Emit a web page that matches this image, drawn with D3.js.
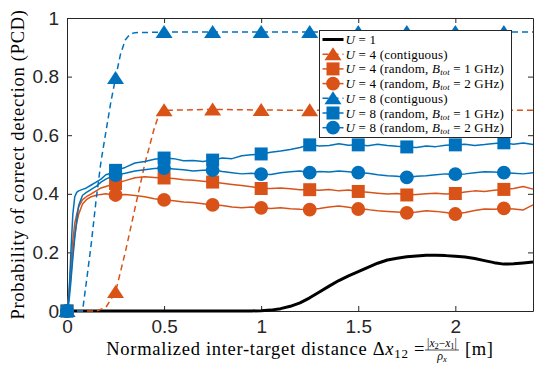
<!DOCTYPE html>
<html>
<head>
<meta charset="utf-8">
<script src="https://cdn.jsdelivr.net/npm/d3@7"></script>
<style>
  body { margin: 0; background: #fff; }
  svg { display: block; }
  .serif { font-family: "Liberation Serif", "DejaVu Serif", serif; }
  .sans { font-family: "Liberation Sans", Arial, sans-serif; }
</style>
</head>
<body>
<svg id="chart"></svg>
<script>
const width = 537; // pixels
const height = 365; // pixels
const margin = {top: 18, right: 4, bottom: 54, left: 67};

// shared x grid of the four noisy (random carrier) curves
const xsRand = [0, 0.01, 0.02, 0.03, 0.04, 0.05, 0.06, 0.08, 0.1, 0.125, 0.15, 0.175, 0.2, 0.225,
    0.25, 0.3, 0.35, 0.4, 0.45, 0.5, 0.55, 0.6, 0.65, 0.7, 0.75, 0.8, 0.85, 0.9, 0.95,
    1.0, 1.05, 1.1, 1.15, 1.2, 1.25, 1.3, 1.35, 1.4, 1.45, 1.5, 1.55, 1.6, 1.65, 1.7, 1.75,
    1.8, 1.85, 1.9, 1.95, 2.0, 2.05, 2.1, 2.15, 2.2, 2.25, 2.3, 2.35, 2.4];

const u8Rand1 = [0, 0.05, 0.2, 0.33, 0.39, 0.405, 0.41, 0.415, 0.42, 0.43, 0.44, 0.45, 0.465, 0.47,
    0.48, 0.49, 0.505, 0.51, 0.518, 0.522, 0.52, 0.513, 0.514, 0.51, 0.515, 0.522, 0.52, 0.53, 0.533,
    0.536, 0.542, 0.546, 0.551, 0.558, 0.567, 0.563, 0.565, 0.571, 0.566, 0.567, 0.564, 0.569, 0.565, 0.562, 0.56,
    0.558, 0.563, 0.561, 0.566, 0.567, 0.569, 0.565, 0.568, 0.572, 0.574, 0.569, 0.573, 0.568];

const u8Rand2 = [0, 0.03, 0.1, 0.18, 0.25, 0.31, 0.36, 0.395, 0.405, 0.415, 0.425, 0.44, 0.45, 0.458,
    0.464, 0.47, 0.478, 0.482, 0.486, 0.488, 0.485, 0.482, 0.478, 0.48, 0.481, 0.476, 0.472, 0.468, 0.47,
    0.467, 0.466, 0.472, 0.475, 0.478, 0.472, 0.476, 0.474, 0.478, 0.475, 0.472, 0.47, 0.465, 0.462, 0.46, 0.456,
    0.46, 0.462, 0.465, 0.468, 0.467, 0.468, 0.472, 0.475, 0.474, 0.472, 0.47, 0.468, 0.472];

const u4Rand1 = [0, 0.06, 0.15, 0.24, 0.3, 0.33, 0.355, 0.38, 0.39, 0.4, 0.41, 0.42, 0.425, 0.43,
    0.435, 0.445, 0.455, 0.458, 0.456, 0.454, 0.452, 0.448, 0.446, 0.443, 0.44, 0.436, 0.432, 0.428, 0.424,
    0.418, 0.418, 0.42, 0.417, 0.414, 0.414, 0.412, 0.415, 0.41, 0.413, 0.408, 0.405, 0.402, 0.399, 0.401, 0.396,
    0.398, 0.4, 0.402, 0.399, 0.401, 0.406, 0.41, 0.408, 0.412, 0.415, 0.418, 0.425, 0.416];

const u4Rand2 = [0, 0.05, 0.12, 0.2, 0.26, 0.3, 0.33, 0.365, 0.38, 0.39, 0.395, 0.398, 0.4, 0.398,
    0.396, 0.398, 0.394, 0.39, 0.383, 0.379, 0.376, 0.372, 0.37, 0.366, 0.362, 0.36, 0.355, 0.352, 0.355,
    0.352, 0.35, 0.352, 0.349, 0.347, 0.346, 0.35, 0.355, 0.358, 0.354, 0.348, 0.346, 0.342, 0.34, 0.338, 0.335,
    0.338, 0.342, 0.34, 0.336, 0.331, 0.336, 0.343, 0.348, 0.347, 0.35, 0.348, 0.345, 0.362];

// contiguous allocation curves (dashed)
const xsU8Contig = [0, 0.05, 0.08, 0.1, 0.125, 0.15, 0.175, 0.2, 0.225, 0.25, 0.275, 0.3, 0.325, 0.35,
    0.5, 0.75, 1.0, 1.25, 1.5, 1.75, 2.0, 2.25, 2.4];
const u8Contig = [0, 0, 0, 0.1, 0.23, 0.38, 0.51, 0.61, 0.71, 0.795, 0.875, 0.925, 0.945, 0.95,
    0.952, 0.952, 0.952, 0.952, 0.952, 0.952, 0.952, 0.952, 0.952];

const xsU4Contig = [0, 0.1, 0.15, 0.2, 0.25, 0.3, 0.35, 0.4, 0.45, 0.475, 0.5, 0.75, 1.0, 1.25,
    1.5, 1.75, 2.0, 2.25, 2.4];
const u4Contig = [0, 0, 0, 0.012, 0.065, 0.2, 0.35, 0.5, 0.625, 0.672, 0.685, 0.688, 0.686, 0.685,
    0.685, 0.685, 0.685, 0.685, 0.685];

// single user
const xsU1 = [0, 0.5, 0.95, 1.0, 1.05, 1.1, 1.15, 1.2, 1.25, 1.3, 1.35, 1.4, 1.45, 1.5, 1.55, 1.6,
    1.65, 1.7, 1.75, 1.8, 1.85, 1.9, 1.95, 2.0, 2.05, 2.1, 2.15, 2.2, 2.25, 2.3, 2.35, 2.4];
const u1 = [0, 0, 0, 0.001, 0.003, 0.008, 0.016, 0.028, 0.045, 0.065, 0.085, 0.104, 0.12, 0.134, 0.149, 0.163,
    0.174, 0.18, 0.185, 0.188, 0.19, 0.19, 0.189, 0.187, 0.184, 0.179, 0.172, 0.165, 0.16, 0.161, 0.164, 0.167];

const markerXs = [0, 0.25, 0.5, 0.75, 1.0, 1.25, 1.5, 1.75, 2.0, 2.25];

const xTicks = [0, 0.5, 1, 1.5, 2];
const yTicks = [0, 0.2, 0.4, 0.6, 0.8, 1];

const blue = "#0072BD";
const orange = "#D95319";

const zip = (xs, ys) => xs.map((v, i) => [v, ys[i]]);

// plot order follows the legend order
const series = [
    {label: ["U", " = 1"], data: zip(xsU1, u1), color: "#000", width: 3, dash: null, marker: null},
    {label: ["U", " = 4 (contiguous)"], data: zip(xsU4Contig, u4Contig), color: orange, width: 1.5, dash: "6,4", marker: "tri"},
    {label: ["U", " = 4 (random, ", "1"], data: zip(xsRand, u4Rand1), color: orange, width: 1.5, dash: null, marker: "sq"},
    {label: ["U", " = 4 (random, ", "2"], data: zip(xsRand, u4Rand2), color: orange, width: 1.5, dash: null, marker: "circ"},
    {label: ["U", " = 8 (contiguous)"], data: zip(xsU8Contig, u8Contig), color: blue, width: 1.5, dash: "6,4", marker: "tri"},
    {label: ["U", " = 8 (random, ", "1"], data: zip(xsRand, u8Rand1), color: blue, width: 1.5, dash: null, marker: "sq"},
    {label: ["U", " = 8 (random, ", "2"], data: zip(xsRand, u8Rand2), color: blue, width: 1.5, dash: null, marker: "circ"}
];

const x = d3.scaleLinear([0, 2.4], [margin.left, width - margin.right]);
const y = d3.scaleLinear([0, 1], [height - margin.bottom, margin.top]);

const svg = d3.select("#chart").attr("width", width).attr("height", height)
    .attr("viewBox", [0, 0, width, height]);

const axisColor = "#262626";

const markerPath = {
    tri: "M0,-7L8.5,6L-8.5,6Z",
    sq: "M-6.5,-6.5H6.5V6.5H-6.5Z",
    circ: d3.symbol(d3.symbolCircle, 150)()
};

const line = d3.line().x(d => x(d[0])).y(d => y(d[1]));

// axes box with inward ticks on all four sides
const styleAxis = g => g
    .attr("font-family", null)
    .call(g => g.select(".domain").attr("stroke", axisColor).attr("stroke-width", 1))
    .call(g => g.selectAll(".tick line").attr("stroke", axisColor))
    .call(g => g.selectAll(".tick text").attr("fill", axisColor)
        .attr("class", "sans").attr("font-size", 19));

svg.append("g")
    .attr("transform", `translate(0,${y(0)})`)
    .call(d3.axisBottom(x).tickValues(xTicks).tickSizeInner(-5).tickSizeOuter(0).tickPadding(9)
        .tickFormat(d3.format("~g")))
    .call(styleAxis);

svg.append("g")
    .attr("transform", `translate(0,${y(1)})`)
    .call(d3.axisTop(x).tickValues(xTicks).tickSizeInner(-5).tickSizeOuter(0).tickFormat(""))
    .call(styleAxis);

svg.append("g")
    .attr("transform", `translate(${x(0)},0)`)
    .call(d3.axisLeft(y).tickValues(yTicks).tickSizeInner(-5).tickSizeOuter(0).tickPadding(8)
        .tickFormat(d3.format("~g")))
    .call(styleAxis);

svg.append("g")
    .attr("transform", `translate(${x(2.4)},0)`)
    .call(d3.axisRight(y).tickValues(yTicks).tickSizeInner(-5).tickSizeOuter(0).tickFormat(""))
    .call(styleAxis);

// curves and their markers
series.forEach(s => {
    svg.append("path")
        .datum(s.data)
        .attr("fill", "none")
        .attr("stroke", s.color)
        .attr("stroke-width", s.width)
        .attr("stroke-dasharray", s.dash)
        .attr("stroke-linejoin", "round")
        .attr("d", line);
    if (s.marker) {
        const pts = s.data.filter(d => markerXs.some(m => Math.abs(m - d[0]) < 1e-9));
        svg.append("g").selectAll("path")
            .data(pts)
            .join("path")
            .attr("transform", d => `translate(${x(d[0])},${y(d[1])})`)
            .attr("d", markerPath[s.marker])
            .attr("fill", s.color);
    }
});

// legend
const legend = svg.append("g").attr("transform", "translate(319.5,30.5)");
legend.append("rect")
    .attr("width", 192).attr("height", 107)
    .attr("fill", "#fff").attr("stroke", axisColor).attr("stroke-width", 1);

series.forEach((s, i) => {
    const row = legend.append("g").attr("transform", `translate(0,${9 + i * 14.7})`);
    row.append("line")
        .attr("x1", 3).attr("x2", 24).attr("y1", 0).attr("y2", 0)
        .attr("stroke", s.color).attr("stroke-width", s.width)
        .attr("stroke-dasharray", s.dash);
    if (s.marker) {
        row.append("path")
            .attr("transform", "translate(13.5,0)")
            .attr("d", markerPath[s.marker])
            .attr("fill", s.color);
    }
    const t = row.append("text")
        .attr("class", "serif")
        .attr("x", 26).attr("y", 4.5)
        .attr("font-size", 13).attr("letter-spacing", 0.2).attr("fill", "#000");
    t.append("tspan").attr("font-style", "italic").text(s.label[0]);
    t.append("tspan").text(s.label[1]);
    if (s.label.length > 2) {
        t.append("tspan").attr("font-style", "italic").text("B");
        t.append("tspan").attr("font-style", "italic").attr("font-size", 8.5).attr("dy", 2).text("tot");
        t.append("tspan").attr("dy", -2).text(` = ${s.label[2]} GHz)`);
    }
});

// y label
svg.append("text")
    .attr("class", "serif")
    .attr("transform", `translate(24,${(y(0) + y(1)) / 2}) rotate(-90)`)
    .attr("text-anchor", "middle")
    .attr("font-size", 18.5).attr("letter-spacing", 0.7).attr("fill", "#000")
    .text("Probability of correct detection (PCD)");

// x label: text, fraction, unit
const xl = svg.append("g").attr("class", "serif");
const main = xl.append("text")
    .attr("y", 0)
    .attr("font-size", 18.5).attr("letter-spacing", 0.7).attr("fill", "#000");
main.append("tspan").text("Normalized inter-target distance Δ");
main.append("tspan").attr("font-style", "italic").text("x");
main.append("tspan").attr("font-size", 13).attr("dy", 3).text("12");
main.append("tspan").attr("dy", -3).text(" = ");
const w1 = main.node().getComputedTextLength();

const num = xl.append("text")
    .attr("y", -8).attr("text-anchor", "middle")
    .attr("font-size", 11.5).attr("fill", "#000");
num.append("tspan").text("|");
num.append("tspan").attr("font-style", "italic").text("x");
num.append("tspan").attr("font-size", 8.5).attr("dy", 2).text("2");
num.append("tspan").attr("dy", -2).text("−");
num.append("tspan").attr("font-style", "italic").text("x");
num.append("tspan").attr("font-size", 8.5).attr("dy", 2).text("1");
num.append("tspan").attr("dy", -2).text("|");
const fw = num.node().getComputedTextLength() + 4;
num.attr("x", w1 + fw / 2);

xl.append("line")
    .attr("x1", w1).attr("x2", w1 + fw)
    .attr("y1", -4.5).attr("y2", -4.5)
    .attr("stroke", "#000").attr("stroke-width", 0.7);

const den = xl.append("text")
    .attr("x", w1 + fw / 2).attr("y", 5.5).attr("text-anchor", "middle")
    .attr("font-size", 12).attr("font-style", "italic").attr("fill", "#000");
den.append("tspan").text("ρ");
den.append("tspan").attr("font-size", 8.5).attr("dy", 1.5).text("x");

const unit = xl.append("text")
    .attr("x", w1 + fw + 6).attr("y", 0)
    .attr("font-size", 18.5).attr("letter-spacing", 0.7).attr("fill", "#000")
    .text("[m]");
const total = w1 + fw + 6 + unit.node().getComputedTextLength();
xl.attr("transform", `translate(${(x(0) + x(2.4)) / 2 - total / 2},354.5)`);
</script>
</body>
</html>
